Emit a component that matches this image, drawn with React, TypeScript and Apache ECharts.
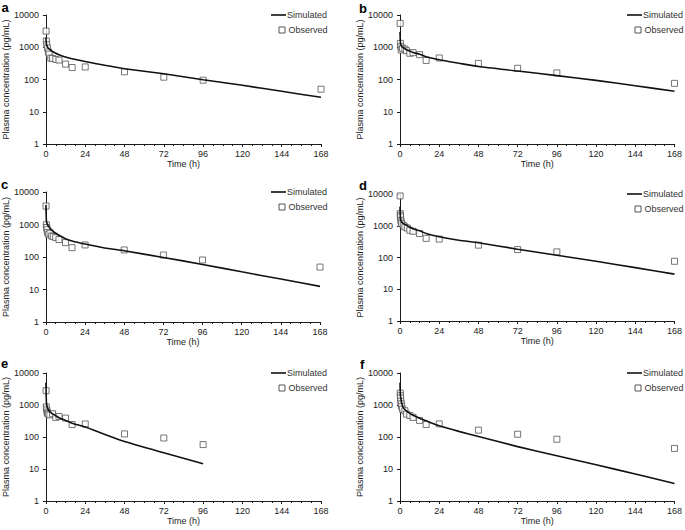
import React, { useEffect, useRef } from "react";
import * as echarts from "echarts";

// ---- data ----
const panelLabels = ["a", "b", "c", "d", "e", "f"];
const xTicks = [0, 24, 48, 72, 96, 120, 144, 168];
const yTickLabels = ["1", "10", "100", "1000", "10000"];

const simTime = [0, 0.25, 0.5, 1, 2, 3, 4, 6, 8, 12, 16, 24, 36, 48, 72, 96, 120, 144, 168];
const simTimeE = [0, 0.25, 0.5, 1, 2, 3, 4, 6, 8, 12, 16, 24, 36, 48, 72, 96];

const simA = [2000, 1300, 1150, 1000, 880, 800, 740, 650, 590, 500, 440, 360, 275, 215, 150, 98, 66, 43, 28];
const simB = [3000, 1400, 1200, 1080, 970, 900, 840, 760, 690, 605, 510, 410, 320, 252, 183, 132, 94, 64, 43];
const simC = [4000, 1400, 1150, 980, 830, 720, 650, 540, 465, 365, 310, 250, 190, 155, 97, 59, 35, 21, 12.5];
const simD = [4000, 1700, 1500, 1320, 1170, 1100, 1040, 900, 810, 690, 570, 450, 350, 290, 183, 118, 76, 48, 30];
const simE = [5000, 1300, 1000, 800, 650, 580, 530, 460, 400, 330, 270, 205, 120, 72, 32, 14.5];
const simF = [5000, 2000, 1600, 1150, 820, 720, 640, 550, 480, 385, 320, 225, 150, 104, 50, 26, 13.5, 7, 3.5];

const obsTimeA = [0.08, 0.25, 0.5, 1, 1.5, 2, 3, 4, 6, 8, 12, 16, 24, 48, 72, 96, 168];
const obsA = [3170, 1560, 1200, 940, 710, 610, 460, 450, 420, 400, 300, 235, 245, 173, 118, 95, 50];
const obsTimeB = [0.08, 0.25, 0.5, 0.75, 1.5, 3, 4, 6, 8, 12, 16, 24, 48, 72, 96, 168];
const obsB = [5500, 1320, 1040, 820, 930, 870, 780, 650, 680, 590, 390, 465, 316, 223, 160, 76];
const obsTimeC = [0.08, 0.25, 0.5, 0.75, 1, 1.5, 2.5, 3.5, 4.5, 6, 8, 12, 16, 24, 48, 72, 96, 168];
const obsC = [3700, 980, 810, 690, 565, 500, 540, 445, 425, 395, 345, 277, 194, 235, 165, 115, 81, 49];
const obsTimeD = [0.08, 0.17, 0.25, 0.33, 0.5, 0.75, 1, 2, 3, 4.5, 6, 8, 12, 16, 24, 48, 72, 96, 168];
const obsD = [8700, 2400, 2140, 1900, 1490, 1320, 1170, 1040, 920, 850, 720, 670, 570, 400, 380, 245, 178, 150, 76];
const obsTimeE = [0.08, 0.25, 0.5, 0.75, 1, 1.5, 2.4, 4, 6, 8, 12, 16, 24, 48, 72, 96];
const obsE = [2800, 870, 700, 600, 550, 520, 490, 535, 410, 440, 390, 245, 255, 125, 93, 58];
const obsTimeF = [0.08, 0.17, 0.25, 0.33, 0.5, 0.75, 1, 1.5, 3, 4, 6, 8, 12, 16, 24, 48, 72, 96, 168];
const obsF = [12000, 2350, 1950, 1650, 1300, 1090, 910, 740, 660, 520, 470, 410, 330, 245, 257, 164, 122, 85, 44];

const simSets = [
  [simTime, simA],
  [simTime, simB],
  [simTime, simC],
  [simTime, simD],
  [simTimeE, simE],
  [simTime, simF],
];
const obsSets = [
  [obsTimeA, obsA],
  [obsTimeB, obsB],
  [obsTimeC, obsC],
  [obsTimeD, obsD],
  [obsTimeE, obsE],
  [obsTimeF, obsF],
];

// ---- layout ----
const grids = [
  { left: 44, top: 15, width: 277, height: 129 },
  { left: 400, top: 15, width: 276, height: 129 },
  { left: 44, top: 192, width: 276, height: 130 },
  { left: 400, top: 194, width: 276, height: 127 },
  { left: 44, top: 373, width: 277, height: 128 },
  { left: 400, top: 373, width: 276, height: 128 },
];
const letterPos = [
  [1.5, 7.5],
  [359, 8],
  [1, 184.5],
  [359, 185.5],
  [1, 363.5],
  [360, 364.5],
];

const FONT = "'Liberation Sans', Arial, sans-serif";
const TEXT = "#222";
const AXIS = "#1a1a1a";
const LINE = "#111";

function zip(a: number[], b: number[]) {
  return a.map((v, i) => [v, b[i]]);
}

export default function App() {
  const ref = useRef<HTMLDivElement>(null);
  useEffect(() => {
    if (!ref.current) return;
    const chart = echarts.init(ref.current, undefined, { renderer: "svg" });
    const xAxis: any[] = [];
    const yAxis: any[] = [];
    const series: any[] = [];
    const graphic: any[] = [];
    grids.forEach((g, i) => {
      xAxis.push({
        type: "value",
        gridIndex: i,
        min: 0,
        max: 168,
        interval: 24,
        name: "Time (h)",
        nameLocation: "middle",
        nameGap: 15,
        nameTextStyle: { fontFamily: FONT, fontSize: 9, color: TEXT },
        axisLine: { show: true, onZero: false, lineStyle: { color: AXIS, width: 1 } },
        axisTick: { show: true, length: 3, lineStyle: { color: AXIS } },
        minorTick: { show: true, splitNumber: 4, length: 2, lineStyle: { color: AXIS } },
        splitLine: { show: false },
        axisLabel: {
          fontFamily: FONT,
          fontSize: 9,
          color: TEXT,
          margin: 5,
          formatter: (v: number) => (xTicks.includes(v) ? String(v) : ""),
        },
      });
      yAxis.push({
        type: "log",
        logBase: 10,
        gridIndex: i,
        min: 1,
        max: 10000,
        name: "Plasma concentration (pg/mL)",
        nameLocation: "middle",
        nameGap: 29,
        nameTextStyle: { fontFamily: FONT, fontSize: 9, color: TEXT },
        axisLine: { show: true, lineStyle: { color: AXIS, width: 1 } },
        axisTick: { show: true, length: 3, lineStyle: { color: AXIS } },
        splitLine: { show: false },
        axisLabel: {
          fontFamily: FONT,
          fontSize: 9,
          color: TEXT,
          margin: 7,
          formatter: (v: number) => {
            const s = String(Math.round(v));
            return yTickLabels.includes(s) ? s : "";
          },
        },
      });
      const [st, sv] = simSets[i];
      const [ot, ov] = obsSets[i];
      series.push({
        type: "scatter",
        name: "Observed",
        xAxisIndex: i,
        yAxisIndex: i,
        symbol: "rect",
        symbolSize: 6,
        z: 2,
        itemStyle: { color: "#fff", borderColor: "#555", borderWidth: 1 },
        data: zip(ot as number[], ov as number[]),
      });
      series.push({
        type: "line",
        name: "Simulated",
        xAxisIndex: i,
        yAxisIndex: i,
        symbol: "none",
        smooth: 0.2,
        z: 3,
        lineStyle: { color: LINE, width: 1.6 },
        data: zip(st as number[], sv as number[]),
      });
      // legend
      const L = g.left;
      const T = g.top;
      graphic.push(
        {
          type: "line",
          shape: { x1: L + 227, y1: T, x2: L + 242, y2: T },
          style: { stroke: LINE, lineWidth: 1.6 },
        },
        {
          type: "text",
          x: L + 243,
          y: T,
          style: { text: "Simulated", fontFamily: FONT, fontSize: 9, fill: "#333", align: "left", verticalAlign: "middle" },
        },
        {
          type: "rect",
          shape: { x: L + 235, y: T + 12, width: 6, height: 6 },
          style: { fill: "#fff", stroke: "#555", lineWidth: 1 },
        },
        {
          type: "text",
          x: L + 244.5,
          y: T + 15,
          style: { text: "Observed", fontFamily: FONT, fontSize: 9, fill: "#333", align: "left", verticalAlign: "middle" },
        },
        {
          type: "text",
          x: letterPos[i][0],
          y: letterPos[i][1],
          style: {
            text: panelLabels[i],
            fontFamily: FONT,
            fontSize: 13,
            fontWeight: "bold",
            fill: "#000",
            align: "left",
            verticalAlign: "middle",
          },
        }
      );
    });
    chart.setOption({
      animation: false,
      backgroundColor: "#fff",
      grid: grids.map((g) => ({ ...g, containLabel: false })),
      xAxis,
      yAxis,
      series,
      graphic,
    });
    return () => chart.dispose();
  }, []);
  return (
    <div
      ref={ref}
      style={{ position: "fixed", left: 0, top: 0, width: 685, height: 530, background: "#fff" }}
    />
  );
}
